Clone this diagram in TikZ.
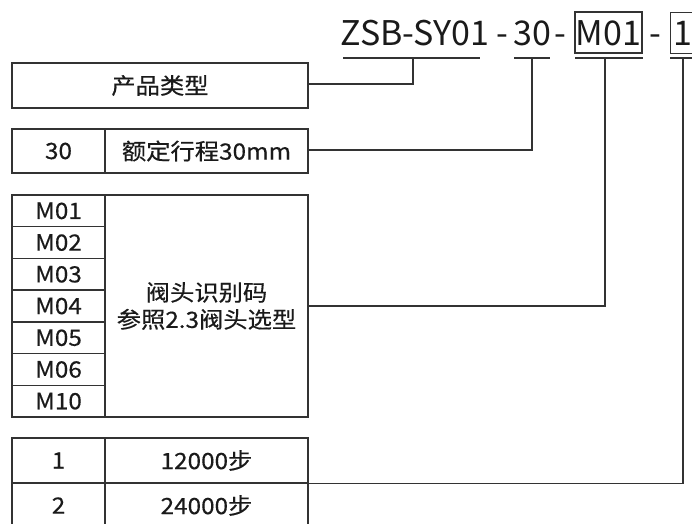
\documentclass[tikz,border=0pt]{standalone}
\usepackage{fontspec}
\setmainfont{Noto Sans CJK SC}
\newfontfamily\cellfont{Noto Sans CJK SC}[FakeStretch=1.08, FakeBold=0.4]
\definecolor{lc}{HTML}{333333}
\definecolor{tc}{HTML}{1A1A1A}
\begin{document}
\begin{tikzpicture}[x=1pt,y=-1pt,
  ln/.style={draw=lc, line width=1.4pt},
  cell/.style={ln, inner sep=0pt, font=\cellfont\fontsize{22.5}{27}\selectfont, text=tc},
  code/.style={inner sep=0pt, anchor=base, font=\fontsize{34}{40}\selectfont, text=tc},
  wire/.style={draw=lc, line width=1.4pt}]
\useasboundingbox (0,0) rectangle (692,523);
\clip (0,0) rectangle (692,523);
\fill[white] (0,0) rectangle (692,523);

% code line
\node[code] (zsb) at (415,45) {ZSB-SY01};
\node[code] (dash1) at (502,45) {-};
\node[code] (c30) at (532,45) {30};
\node[code] (dash2) at (560,45) {-};
\node[code] (m01) at (608.5,45) {M01};
\node[code] (dash3) at (655,45) {-};
\node[code] (one) at (683,45) {1};
\node[ln, inner sep=0pt, minimum width=67pt, minimum height=41pt] (m01box) at (608.5,32.5) {};
\node[ln, inner sep=0pt, anchor=north west, minimum width=40pt, minimum height=41pt] (onebox) at (670,12) {};

% underlines and drop points
\coordinate (u1a) at (343,58); \coordinate (u1b) at (480,58);
\coordinate (u2a) at (514,58); \coordinate (u2b) at (550,58);
\coordinate (u3a) at (575,58); \coordinate (u3b) at (643,58);
\coordinate (u4a) at (670,58); \coordinate (u4b) at (700,58);
\draw[wire] (u1a) -- (u1b);
\draw[wire] (u2a) -- (u2b);
\draw[wire] (u3a) -- (u3b);
\draw[wire] (u4a) -- (u4b);
\coordinate (d1) at (413,58);
\coordinate (d2) at (532,58);
\coordinate (d3) at (605,58);
\coordinate (d4) at (683,58);

% box 1
\node[cell, minimum width=296pt, minimum height=45pt] (b1) at (160,85.5) {产品类型};
% box 2
\node[cell, minimum width=93pt, minimum height=44pt] (b2l) at (58.5,151) {30};
\node[cell, minimum width=203pt, minimum height=44pt] (b2r) at (206.5,151) {额定行程30mm};
% box 3
\foreach \t [count=\i from 0] in {M01,M02,M03,M04,M05,M06,M10}{
  \node[cell, minimum width=93pt, minimum height=31.714pt] (m\i) at (58.5,{195+31.714*(\i+0.5)}) {\t};
}
\node[cell, minimum width=203pt, minimum height=222pt, align=center] (mr) at (206.5,306) {阀头识别码\\参照2.3阀头选型};
% box 4
\node[cell, minimum width=93pt, minimum height=45pt] (s1l) at (58.5,460.5) {1};
\node[cell, minimum width=203pt, minimum height=45pt] (s1r) at (206.5,460.5) {12000步};
\node[cell, minimum width=93pt, minimum height=45pt] (s2l) at (58.5,505.5) {2};
\node[cell, minimum width=203pt, minimum height=45pt] (s2r) at (206.5,505.5) {24000步};

% connectors
\draw[wire] ([yshift=1.5pt]b1.east) -| (d1);
\draw[wire] ([yshift=1pt]b2r.east) -| (d2);
\draw[wire] (mr.east) -| (d3);
\draw[wire] (s1r.south east) -| (d4);
\end{tikzpicture}
\end{document}
